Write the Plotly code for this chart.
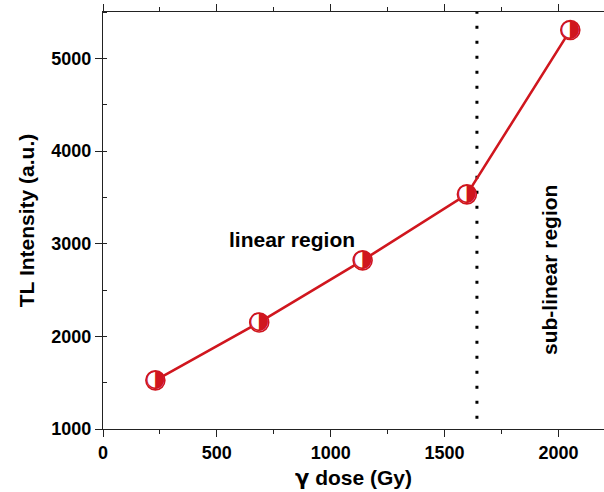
import plotly.graph_objects as go

# Gamma dose (Gy) and measured TL intensity (a.u.)
dose = [230, 686, 1140, 1598, 2052]
tl_intensity = [1525, 2150, 2820, 3532, 5305]

# Boundary between linear and sub-linear response
boundary_dose = 1642

x_ticks = [0, 500, 1000, 1500, 2000]
y_ticks = [1000, 2000, 3000, 4000, 5000]

RED = "#d0161e"
FONT = "Liberation Sans, Arial, sans-serif"

fig = go.Figure()

# boundary line
fig.add_trace(go.Scatter(
    x=[boundary_dose, boundary_dose], y=[1110, 5500],
    mode="lines", line=dict(color="black", width=3, dash="3px,12px"),
    hoverinfo="skip", showlegend=False,
))

# data line
fig.add_trace(go.Scatter(
    x=dose, y=tl_intensity, mode="lines",
    line=dict(color=RED, width=2.6), showlegend=False,
))

# half-filled circle markers: white disc with red outline, then right half glyph
fig.add_trace(go.Scatter(
    x=dose, y=tl_intensity, mode="markers",
    marker=dict(size=19, color="white", line=dict(color=RED, width=1.6)),
    showlegend=False,
))
fig.add_trace(go.Scatter(
    x=dose, y=tl_intensity, mode="text",
    text=["\u25D1"] * len(dose), textposition="middle center",
    textfont=dict(family="DejaVu Sans", size=24, color=RED),
    showlegend=False,
))

fig.add_annotation(x=832, y=3040, text="<b>linear region</b>", showarrow=False,
                   font=dict(family=FONT, size=21, color="black"))
fig.add_annotation(x=1960, y=2720, text="<b>sub-linear region</b>", showarrow=False,
                   textangle=-90, font=dict(family=FONT, size=21, color="black"))

axis_common = dict(
    showgrid=False, zeroline=False, showline=True, linecolor="#222", linewidth=1.3,
    ticks="outside", ticklen=7, tickwidth=1.3, tickcolor="#222",
    tickfont=dict(family=FONT, size=18, color="black"),
)

gamma = '<span style="font-family:DejaVu Sans">\u03b3</span>'

fig.update_layout(
    width=604, height=492,
    margin=dict(l=103, r=0, t=12, b=63),
    plot_bgcolor="white", paper_bgcolor="white",
    xaxis=dict(
        range=[0, 2200], tickvals=x_ticks,
        ticktext=[f"<b>{v}</b>" for v in x_ticks],
        mirror="ticks",
        minor=dict(dtick=250, ticks="outside", ticklen=4, tickcolor="#222"),
        title=dict(text=f"<b>{gamma} dose (Gy)</b>", font=dict(family=FONT, size=21, color="black"),
                   standoff=8),
        **axis_common,
    ),
    yaxis=dict(
        range=[1000, 5500], tickvals=y_ticks,
        ticktext=[f"<b>{v}</b>" for v in y_ticks],
        minor=dict(dtick=500, ticks="inside", ticklen=4, tickcolor="#222"),
        title=dict(text="<b>TL Intensity (a.u.)</b>", font=dict(family=FONT, size=21, color="black"),
                   standoff=10),
        **axis_common,
    ),
)

fig.write_html("out.html")
